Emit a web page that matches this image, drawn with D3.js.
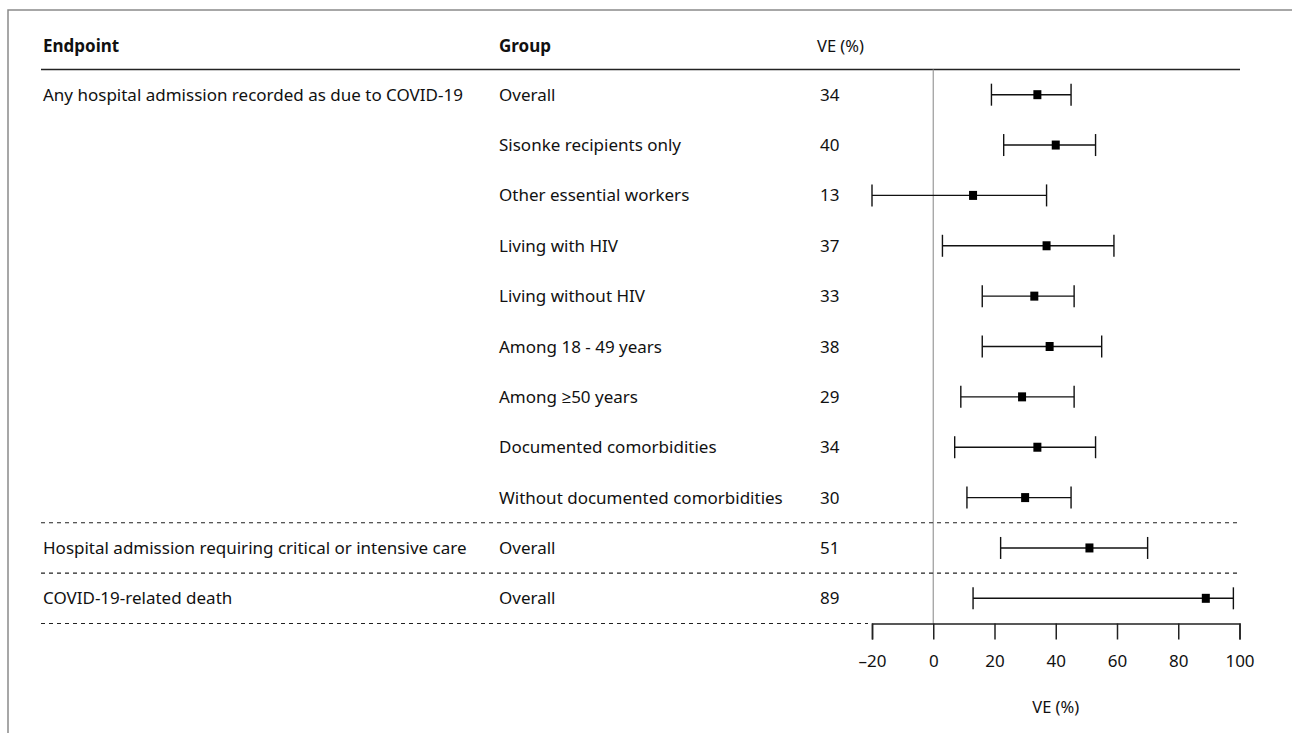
<!DOCTYPE html>
<html>
<head>
<meta charset="utf-8">
<script src="https://cdn.jsdelivr.net/npm/d3@7"></script>
<style>
  html, body { margin: 0; padding: 0; background: #fff; }
  svg { display: block; }
  text { font-family: "Noto Sans", "Open Sans", sans-serif; fill: #111; }
</style>
</head>
<body>
<svg id="chart" width="1292" height="733"></svg>
<script>
// Forest plot of vaccine effectiveness (VE, %) with 95% confidence intervals
const endpoints = [
  "Any hospital admission recorded as due to COVID-19", "", "", "", "", "", "", "", "",
  "Hospital admission requiring critical or intensive care",
  "COVID-19-related death"
];
const groups = [
  "Overall", "Sisonke recipients only", "Other essential workers", "Living with HIV",
  "Living without HIV", "Among 18 - 49 years", "Among \u226550 years",
  "Documented comorbidities", "Without documented comorbidities",
  "Overall", "Overall"
];
const ve      = [34, 40, 13, 37, 33, 38, 29, 34, 30, 51, 89];
const ciLower = [19, 23, -20, 3, 16, 16, 9, 7, 11, 22, 13];
const ciUpper = [45, 53, 37, 59, 46, 55, 46, 53, 45, 70, 98];
const xTicks  = [-20, 0, 20, 40, 60, 80, 100];
// rows after which a dashed separator is drawn
const separators = [8, 9, 10];

const svg = d3.select("#chart");

const colEndpoint = 43, colGroup = 499, colVE = 817;
const tableLeft = 41, tableRight = 1240;
const fs = 17;

const rows = d3.range(ve.length);
const y = d3.scaleBand().domain(rows).range([69.5, 623.5]);
const x = d3.scaleLinear().domain([-20, 100]).range([872, 1239.5]);

// outer frame (top and left edges)
svg.append("path")
  .attr("d", "M8,733V10H1292")
  .attr("fill", "none").attr("stroke", "#8a8a8a").attr("stroke-width", 1.5);

// headers
const header = svg.append("g").attr("font-size", fs);
header.append("text").attr("x", colEndpoint).attr("y", 52).attr("font-weight", "bold").text("Endpoint");
header.append("text").attr("x", colGroup).attr("y", 52).attr("font-weight", "bold").text("Group");
header.append("text").attr("x", colVE).attr("y", 52).attr("font-size", 16.5).text("VE (%)");

svg.append("line")
  .attr("x1", tableLeft).attr("x2", tableRight)
  .attr("y1", 69.5).attr("y2", 69.5)
  .attr("stroke", "#222").attr("stroke-width", 1.5);

// reference line at VE = 0
svg.append("line")
  .attr("x1", x(0)).attr("x2", x(0))
  .attr("y1", 69.5).attr("y2", 623.5)
  .attr("stroke", "#9a9a9a").attr("stroke-width", 1.2);

// dashed separators between endpoint blocks
svg.append("g").selectAll("line").data(separators).join("line")
  .attr("x1", tableLeft)
  .attr("x2", d => d === ve.length - 1 ? x(-20) - 4 : tableRight)
  .attr("y1", d => y(d) + y.bandwidth())
  .attr("y2", d => y(d) + y.bandwidth())
  .attr("stroke", "#222").attr("stroke-width", 1.1)
  .attr("stroke-dasharray", "4,4");

// table text
const cy = i => y(i) + y.bandwidth() / 2;
const table = svg.append("g").attr("font-size", fs);
table.selectAll(".ep").data(rows).join("text").attr("class", "ep")
  .attr("x", colEndpoint).attr("y", i => cy(i) + 6).text(i => endpoints[i]);
table.selectAll(".gr").data(rows).join("text").attr("class", "gr")
  .attr("x", colGroup).attr("y", i => cy(i) + 6).text(i => groups[i]);
table.selectAll(".ve").data(rows).join("text").attr("class", "ve")
  .attr("x", colVE + 3).attr("y", i => cy(i) + 6).text(i => ve[i]);

// confidence intervals
const ci = svg.append("g").attr("stroke", "#111").attr("stroke-width", 1.4);
ci.selectAll(".ci").data(rows).join("line").attr("class", "ci")
  .attr("x1", i => x(ciLower[i])).attr("x2", i => x(ciUpper[i]))
  .attr("y1", cy).attr("y2", cy);
ci.selectAll(".capL").data(rows).join("line").attr("class", "capL")
  .attr("x1", i => x(ciLower[i])).attr("x2", i => x(ciLower[i]))
  .attr("y1", i => cy(i) - 11).attr("y2", i => cy(i) + 11);
ci.selectAll(".capU").data(rows).join("line").attr("class", "capU")
  .attr("x1", i => x(ciUpper[i])).attr("x2", i => x(ciUpper[i]))
  .attr("y1", i => cy(i) - 11).attr("y2", i => cy(i) + 11);

// point estimates
svg.append("g").selectAll("rect").data(rows).join("rect")
  .attr("x", i => x(ve[i]) - 4).attr("y", i => cy(i) - 4.5)
  .attr("width", 8).attr("height", 9).attr("fill", "#000");

// x axis
const axis = svg.append("g")
  .attr("transform", "translate(0,623.5)")
  .call(d3.axisBottom(x).tickValues(xTicks).tickSize(16).tickPadding(15)
    .tickFormat(d => d < 0 ? "\u2013" + Math.abs(d) : d));
axis.select(".domain").attr("stroke", "#222").attr("stroke-width", 1.5);
axis.selectAll(".tick line").attr("stroke", "#222").attr("stroke-width", 1.5);
axis.selectAll(".tick text")
  .attr("font-family", "'Noto Sans', sans-serif").attr("font-size", fs).attr("fill", "#111");

svg.append("text")
  .attr("x", (x(-20) + x(100)) / 2).attr("y", 713)
  .attr("text-anchor", "middle").attr("font-size", 16.5).text("VE (%)");
</script>
</body>
</html>
